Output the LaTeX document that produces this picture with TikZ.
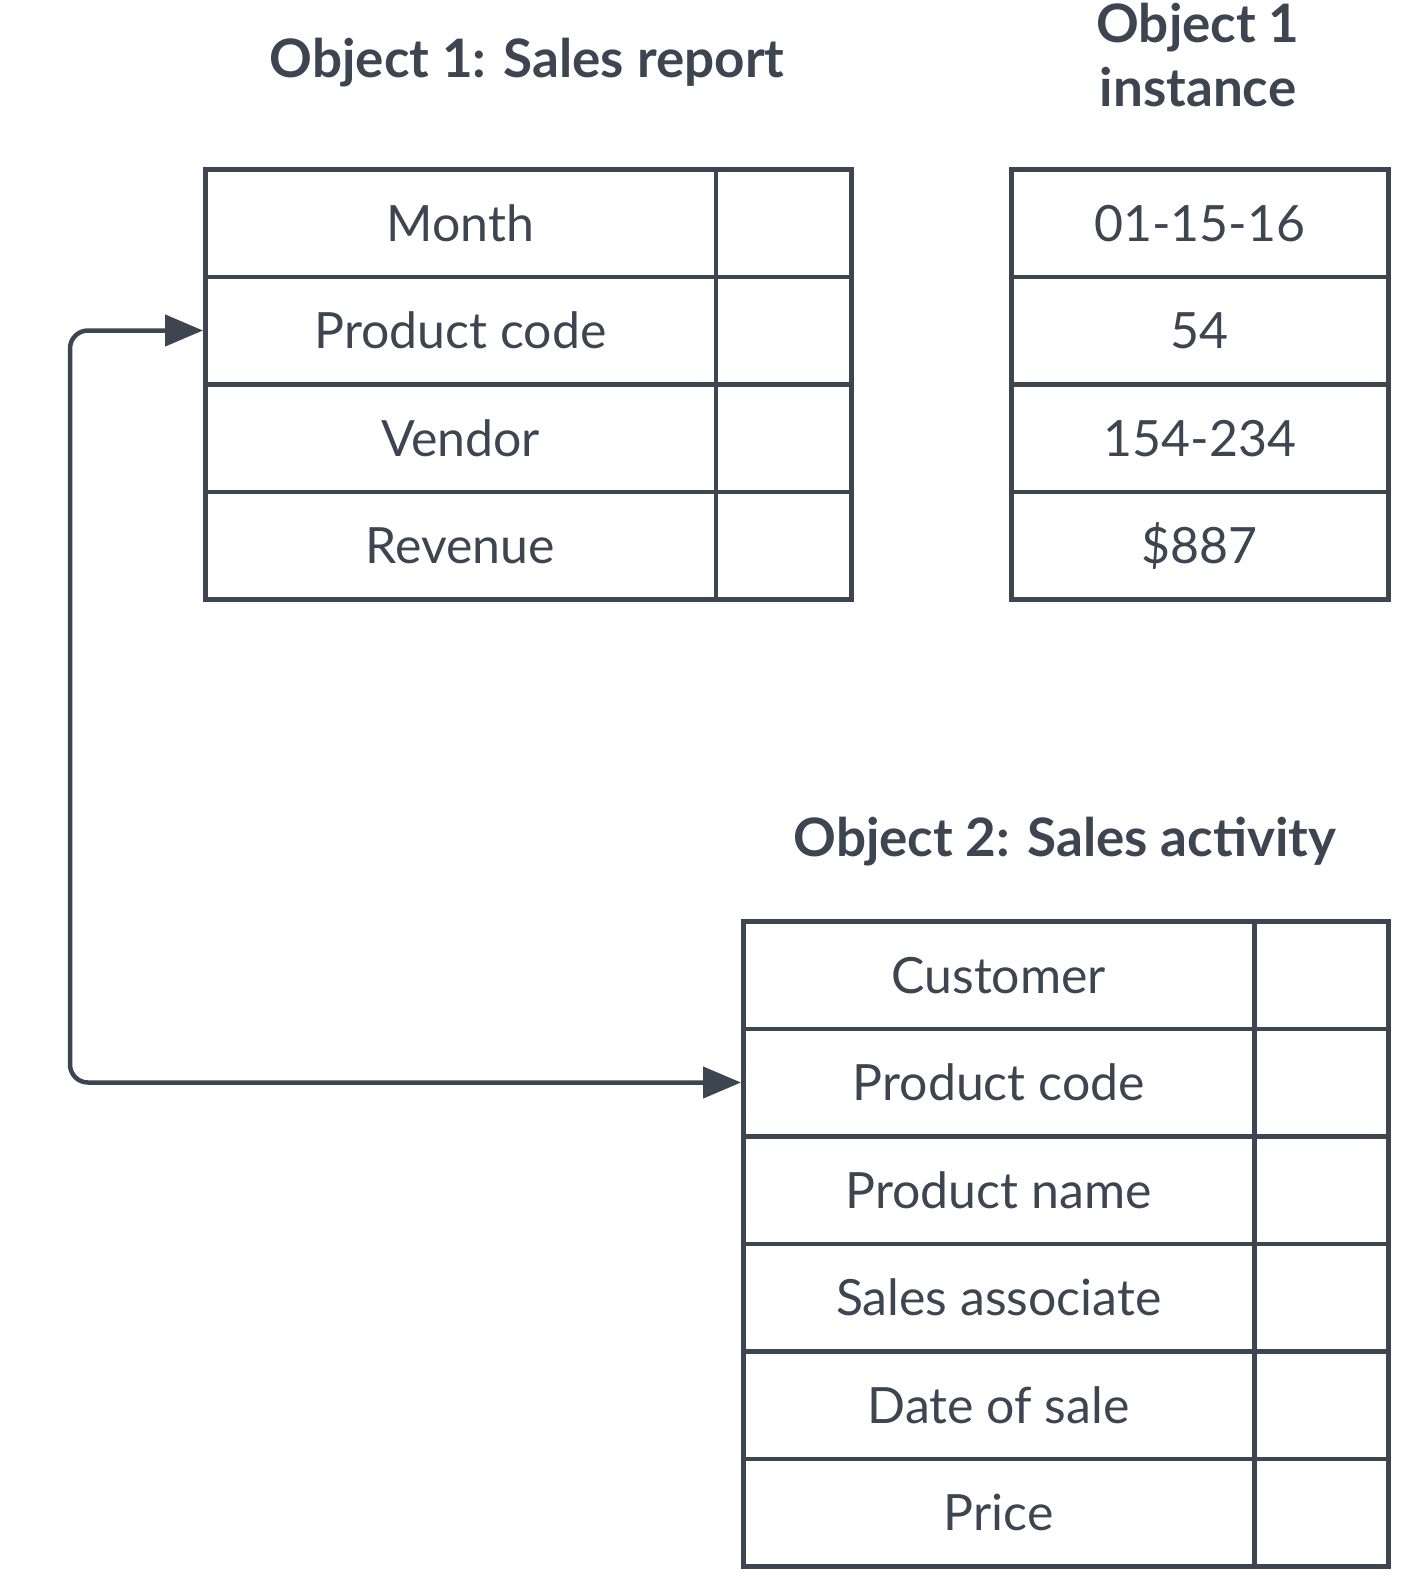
\documentclass[tikz,border=0pt]{standalone}
\usepackage{fontspec}
\setmainfont{Lato}
\usetikzlibrary{arrows.meta}
\definecolor{ink}{HTML}{3D4551}
\begin{document}
\begin{tikzpicture}[x=1pt,y=-1pt,
  every node/.style={text=ink},
  cell/.style={draw=ink, line width=4.5pt, rectangle, inner sep=0pt,
    anchor=north west, minimum height=107.5pt,
    font=\fontsize{50}{60}\selectfont, text height=36pt, text depth=0pt},
  title/.style={font=\fontsize{53}{64}\selectfont\bfseries, align=center, inner sep=0pt},
  conn/.style={draw=ink, line width=4.5pt, rounded corners=18pt,
    {Triangle[length=38pt,width=31pt]}-{Triangle[length=38pt,width=31pt]}}]
\useasboundingbox (0,0) rectangle (1414,1582);

% titles (anchor=base sits on the last line)
\node[title, anchor=base] (t1) at (527,77) {Object 1: Sales report};
\node[title, anchor=base] (t2) at (1198,106) {Object 1\\instance};
\node[title, anchor=base] (t3) at (1065,856) {Object 2: Sales activity};

% object 1: sales report
\foreach \name/\txt [count=\i from 0] in {a/Month, b/Product code, c/Vendor, d/Revenue} {
  \node[cell, minimum width=510.5pt] (s1\name) at (203,167+\i*107.5) {\txt};
  \node[cell, minimum width=135.5pt] (v1\name) at (713.5,167+\i*107.5) {};
}

% object 1 instance
\foreach \name/\txt [count=\i from 0] in {a/01-15-16, b/54, c/154-234, d/\$887} {
  \node[cell, minimum width=377pt] (i1\name) at (1009,167+\i*107.5) {\txt};
}

% object 2: sales activity
\foreach \name/\txt [count=\i from 0] in {a/Customer, b/Product code, c/Product name, d/Sales associate, e/Date of sale, f/Price} {
  \node[cell, minimum width=511pt] (s3\name) at (741,919+\i*107.5) {\txt};
  \node[cell, minimum width=134pt] (v3\name) at (1252,919+\i*107.5) {};
}

% link between the two product code fields
\coordinate (bend) at (70,700);
\draw[conn] (s3b.west) -| (bend) |- (s1b.west);
\end{tikzpicture}
\end{document}
